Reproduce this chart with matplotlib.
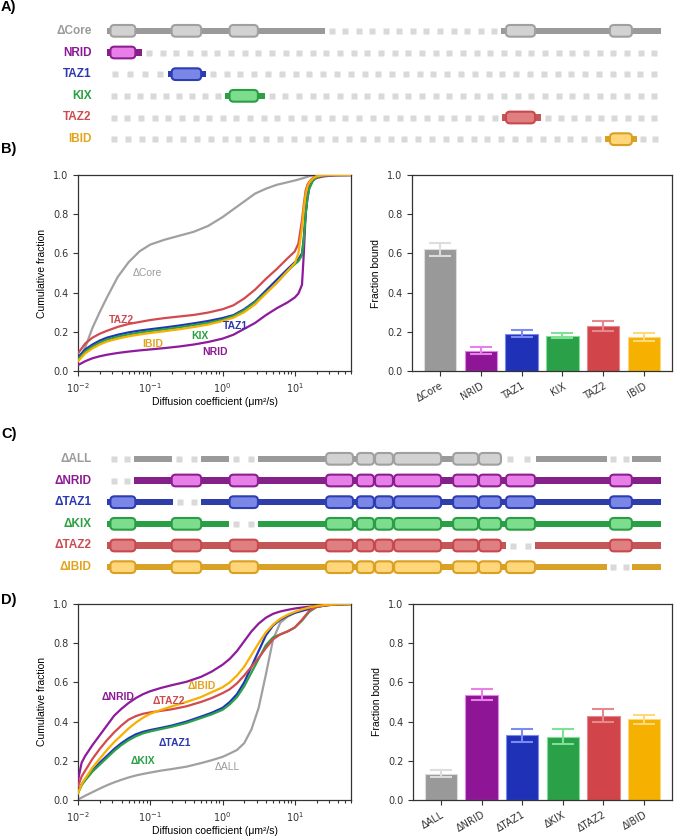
import numpy as np
import matplotlib
matplotlib.use('Agg')
import matplotlib.pyplot as plt
from matplotlib.patches import Rectangle, FancyBboxPatch

plt.rcParams['font.family'] = ['DejaVu Sans']
plt.rcParams['mathtext.fontset'] = 'dejavusans'
HELV = ['Liberation Sans', 'DejaVu Sans']

# ---------------- data ----------------
SEQ_LEN = 2441
DOMAIN_NAMES = ['NRID', 'TAZ1', 'KIX', 'core1', 'core2', 'core3', 'core4', 'core5', 'core6', 'TAZ2', 'IBID']
DOMAIN_START = [15, 285, 540, 965, 1101, 1181, 1265, 1525, 1639, 1758, 2216]
DOMAIN_END = [125, 415, 665, 1084, 1176, 1260, 1472, 1635, 1736, 1886, 2313]

# panel A: fragments kept in each construct
A_LABELS = ['ΔCore', 'NRID', 'TAZ1', 'KIX', 'TAZ2', 'IBID']
A_KEEP = [[(0, 960), (1736, 2441)], [(0, 155)], [(269, 436)], [(520, 696)], [(1740, 1912)], [(2194, 2335)]]

# panel C: regions deleted in each construct
C_LABELS = ['ΔALL', 'ΔNRID', 'ΔTAZ1', 'ΔKIX', 'ΔTAZ2', 'ΔIBID']
C_DELETED = [[(0, 120), (286, 414), (538, 665), (1740, 1890), (2203, 2313)],
             [(0, 120)], [(290, 414)], [(538, 665)], [(1758, 1886)], [(2203, 2313)]]

# panel B: cumulative distributions (log10 D) and fraction bound
B_LOGD = [-2.0, -1.9, -1.8, -1.7, -1.6, -1.45, -1.3, -1.15, -1.0, -0.8, -0.6, -0.4, -0.2, 0.0, 0.15,
          0.3, 0.45, 0.6, 0.75, 0.9, 1.0, 1.05, 1.1, 1.125, 1.15, 1.175, 1.2, 1.25, 1.3, 1.4, 1.55, 1.78]
B_DCORE = [0.05, 0.12, 0.22, 0.30, 0.375, 0.48, 0.555, 0.61, 0.645, 0.67, 0.69, 0.71, 0.74, 0.785, 0.825,
           0.865, 0.905, 0.93, 0.95, 0.963, 0.972, 0.977, 0.982, 0.985, 0.988, 0.991, 0.994, 0.998, 1.0, 1.0, 1.0, 1.0]
B_NRID = [0.03, 0.05, 0.065, 0.075, 0.083, 0.092, 0.099, 0.105, 0.11, 0.117, 0.125, 0.135, 0.148, 0.165, 0.185,
          0.215, 0.245, 0.285, 0.32, 0.35, 0.375, 0.395, 0.44, 0.6, 0.8, 0.9, 0.94, 0.972, 0.985, 0.993, 0.998, 1.0]
B_TAZ1 = [0.07, 0.11, 0.135, 0.155, 0.17, 0.185, 0.197, 0.206, 0.213, 0.222, 0.232, 0.243, 0.255, 0.27, 0.285,
          0.315, 0.355, 0.41, 0.465, 0.52, 0.555, 0.57, 0.6, 0.68, 0.8, 0.88, 0.935, 0.975, 0.99, 0.997, 1.0, 1.0]
B_KIX = [0.06, 0.1, 0.125, 0.145, 0.16, 0.175, 0.187, 0.196, 0.204, 0.213, 0.223, 0.234, 0.246, 0.262, 0.28,
         0.31, 0.35, 0.40, 0.45, 0.51, 0.545, 0.56, 0.59, 0.67, 0.8, 0.88, 0.93, 0.97, 0.988, 0.997, 1.0, 1.0]
B_TAZ2 = [0.09, 0.14, 0.17, 0.19, 0.205, 0.225, 0.24, 0.25, 0.26, 0.27, 0.278, 0.286, 0.298, 0.315, 0.335,
          0.37, 0.415, 0.47, 0.52, 0.575, 0.61, 0.65, 0.77, 0.85, 0.92, 0.95, 0.965, 0.985, 0.995, 1.0, 1.0, 1.0]
B_IBID = [0.05, 0.09, 0.115, 0.135, 0.15, 0.165, 0.177, 0.186, 0.194, 0.203, 0.213, 0.224, 0.237, 0.255, 0.272,
          0.30, 0.34, 0.395, 0.45, 0.51, 0.55, 0.6, 0.73, 0.83, 0.9, 0.94, 0.96, 0.982, 0.993, 0.999, 1.0, 1.0]
B_BOUND = [0.62, 0.103, 0.191, 0.179, 0.229, 0.173]
B_BOUND_ERR = [0.033, 0.017, 0.016, 0.013, 0.026, 0.02]

# panel D
D_LOGD = [-2.0, -1.95, -1.9, -1.8, -1.7, -1.6, -1.5, -1.4, -1.3, -1.2, -1.1, -1.0, -0.85, -0.7, -0.5, -0.3, -0.15,
          0.0, 0.1, 0.2, 0.3, 0.4, 0.5, 0.6, 0.7, 0.8, 0.9, 1.0, 1.1, 1.2, 1.3, 1.45, 1.6, 1.78]
D_ALL = [0.003, 0.012, 0.022, 0.04, 0.058, 0.075, 0.09, 0.103, 0.115, 0.125, 0.133, 0.14, 0.15, 0.158, 0.17, 0.188, 0.203,
         0.22, 0.237, 0.255, 0.29, 0.36, 0.47, 0.64, 0.82, 0.905, 0.935, 0.955, 0.97, 0.982, 0.99, 0.996, 0.999, 1.0]
D_NRID = [0.10, 0.19, 0.225, 0.28, 0.33, 0.38, 0.43, 0.465, 0.495, 0.52, 0.54, 0.555, 0.572, 0.586, 0.603, 0.628, 0.655,
          0.69, 0.72, 0.76, 0.81, 0.86, 0.90, 0.93, 0.95, 0.962, 0.97, 0.977, 0.982, 0.986, 0.99, 0.994, 0.998, 1.0]
D_TAZ1 = [0.04, 0.08, 0.105, 0.15, 0.19, 0.225, 0.26, 0.29, 0.315, 0.335, 0.348, 0.357, 0.368, 0.38, 0.40, 0.425, 0.445,
          0.47, 0.5, 0.54, 0.6, 0.68, 0.76, 0.84, 0.89, 0.92, 0.94, 0.955, 0.965, 0.975, 0.985, 0.994, 0.998, 1.0]
D_KIX = [0.035, 0.075, 0.1, 0.145, 0.18, 0.215, 0.25, 0.28, 0.305, 0.325, 0.34, 0.35, 0.362, 0.374, 0.393, 0.418, 0.437,
         0.46, 0.488, 0.525, 0.58, 0.65, 0.72, 0.79, 0.83, 0.845, 0.86, 0.88, 0.915, 0.96, 0.985, 0.995, 0.999, 1.0]
D_TAZ2 = [0.07, 0.12, 0.15, 0.21, 0.26, 0.305, 0.345, 0.38, 0.41, 0.428, 0.44, 0.447, 0.455, 0.463, 0.478, 0.5, 0.52,
          0.545, 0.565, 0.595, 0.635, 0.68, 0.725, 0.775, 0.82, 0.845, 0.86, 0.88, 0.92, 0.965, 0.985, 0.995, 0.999, 1.0]
D_IBID = [0.035, 0.08, 0.11, 0.165, 0.21, 0.255, 0.295, 0.33, 0.365, 0.395, 0.42, 0.44, 0.46, 0.478, 0.5, 0.525, 0.55,
          0.575, 0.6, 0.635, 0.68, 0.74, 0.8, 0.855, 0.895, 0.925, 0.945, 0.96, 0.972, 0.982, 0.99, 0.996, 0.999, 1.0]
D_BOUND = [0.135, 0.538, 0.33, 0.323, 0.431, 0.412]
D_BOUND_ERR = [0.02, 0.03, 0.033, 0.037, 0.033, 0.023]

# curve label positions (D value, cumulative fraction)
B_TAGS = [('ΔCore', 0.091, 0.50), ('NRID', 0.79, 0.096), ('TAZ1', 1.5, 0.23),
          ('KIX', 0.48, 0.18), ('TAZ2', 0.04, 0.26), ('IBID', 0.107, 0.14)]
D_TAGS = [('ΔALL', 1.17, 0.17), ('ΔNRID', 0.036, 0.525), ('ΔTAZ1', 0.22, 0.29),
          ('ΔKIX', 0.08, 0.20), ('ΔTAZ2', 0.18, 0.505), ('ΔIBID', 0.52, 0.58)]

# colours: gray, purple, blue, green, red, yellow
LINE_COLORS = ['#9a9a9a', '#85208a', '#2f3da8', '#29a044', '#c55657', '#d9a126']
BOX_FILL = ['#d2d2d2', '#e87fe8', '#7a87e6', '#7ddd8e', '#e07f80', '#ffd67a']
BOX_EDGE = ['#a0a0a0', '#8c1f90', '#2d3db2', '#2a9d45', '#c8484f', '#daa023']
TEXT_COLORS = ['#9b9b9b', '#8c1a94', '#2b39b0', '#2aa043', '#cd4a4f', '#e3a41c']
BAR_COLORS = ['#999999', '#8e1696', '#1f31b7', '#2aa049', '#d0444a', '#f5b000']
ERR_COLORS = ['#dddddd', '#e681ea', '#7c8bf2', '#80e095', '#e58a8c', '#ffd978']
CURVE_COLORS = ['#a0a0a0', '#8e1a9c', '#1f35b8', '#2ca04a', '#d24a50', '#f7b000']

W, H = 675, 839
fig = plt.figure(figsize=(W / 100, H / 100), dpi=100)


def px_axes(left, top, right, bottom):
    return fig.add_axes([left / W, 1 - bottom / H, (right - left) / W, (bottom - top) / H])


def complement(segs):
    out, pos = [], 0
    for s, e in sorted(segs):
        if s > pos:
            out.append((pos, s))
        pos = max(pos, e)
    if pos < SEQ_LEN:
        out.append((pos, SEQ_LEN))
    return out


def draw_schematic(ax, labels, keeps):
    nrow = len(labels)
    ax.set_xlim(0, SEQ_LEN)
    ax.set_ylim(nrow - 0.5, -0.5)
    ax.axis('off')
    bb = ax.get_position()
    ppu_x = bb.width * W / SEQ_LEN
    ppu_y = bb.height * H / nrow
    aspect = ppu_x / ppu_y
    radius = 4.0 / ppu_x
    step = 13.7 / ppu_x
    line_h, box_h = 0.28, 0.54
    for row, (lab, keep) in enumerate(zip(labels, keeps)):
        for s, e in keep:
            ax.add_patch(Rectangle((s, row - line_h / 2), e - s, line_h,
                                   facecolor=LINE_COLORS[row], edgecolor='none', zorder=2))
        for s, e in complement(keep):
            n = max(1, int(round((e - s) / step)))
            xs = s + (np.arange(n) + 0.5) * (e - s) / n
            ax.plot(xs, np.full(n, row), 's', ms=3.8, color='#d9d9d9', mec='none', zorder=1)
        for name, s, e in zip(DOMAIN_NAMES, DOMAIN_START, DOMAIN_END):
            inside = any(s >= ks and e <= ke for ks, ke in keep)
            if not inside:
                continue
            ax.add_patch(FancyBboxPatch((s, row - box_h / 2), e - s, box_h,
                                        boxstyle=f'round,pad=0,rounding_size={radius}',
                                        mutation_aspect=aspect, facecolor=BOX_FILL[row],
                                        edgecolor=BOX_EDGE[row], lw=1.5, zorder=3))
        ax.text(-0.028, row, lab, transform=ax.get_yaxis_transform(), ha='right', va='center',
                fontsize=8.5, fontweight='bold', color=TEXT_COLORS[row], family=HELV)


def style_axes(ax):
    for sp in ax.spines.values():
        sp.set_color('#333333')
        sp.set_linewidth(0.9)
    ax.tick_params(which='both', direction='out', colors='#333333', labelsize=7, width=0.8)
    ax.tick_params(which='major', length=3.5)
    ax.tick_params(which='minor', length=2)


def draw_cdf(ax, logd, curves, tags):
    x = 10 ** np.array(logd)
    for i, y in enumerate(curves):
        ax.plot(x, y, color=CURVE_COLORS[i], lw=1.6, zorder=2 + i)
    ax.set_xscale('log')
    ax.set_xlim(1e-2, 60)
    ax.set_ylim(0, 1)
    ax.set_yticks([0, 0.2, 0.4, 0.6, 0.8, 1.0])
    ax.set_xlabel('Diffusion coefficient (μm²/s)', fontsize=7.5, family=HELV, labelpad=2)
    ax.set_ylabel('Cumulative fraction', fontsize=7.5, family=HELV)
    style_axes(ax)
    for i, (t, tx, ty) in enumerate(tags):
        ax.text(tx, ty, t, color=TEXT_COLORS[i], fontsize=7.5, ha='center', va='center',
                fontweight='normal' if i == 0 else 'bold', family=HELV, zorder=10)


def draw_bars(ax, labels, vals, errs):
    xs = np.arange(len(vals))
    ax.bar(xs, vals, width=0.8, color=BAR_COLORS, edgecolor=ERR_COLORS, lw=0.8)
    for i in xs:
        ax.errorbar(xs[i], vals[i], yerr=errs[i], fmt='none', ecolor=ERR_COLORS[i],
                    elinewidth=1.5, capsize=8, capthick=1.5, zorder=5)
    ax.set_ylim(0, 1)
    ax.set_yticks([0, 0.2, 0.4, 0.6, 0.8, 1.0])
    ax.set_xticks(xs)
    ax.set_xticklabels(labels, rotation=30, ha='right', rotation_mode='anchor')
    ax.set_ylabel('Fraction bound', fontsize=7.5, family=HELV)
    style_axes(ax)


# panel A
axA = px_axes(107, 20, 661, 150)
draw_schematic(axA, A_LABELS, A_KEEP)

# panel C
axC = px_axes(107, 448, 661, 578)
c_keep = [complement(d) for d in C_DELETED]
draw_schematic(axC, C_LABELS, c_keep)

# panel B
axB1 = px_axes(78, 175, 351, 371)
draw_cdf(axB1, B_LOGD, [B_DCORE, B_NRID, B_TAZ1, B_KIX, B_TAZ2, B_IBID], B_TAGS)
axB2 = px_axes(412, 175, 672, 371)
draw_bars(axB2, A_LABELS, B_BOUND, B_BOUND_ERR)

# panel D
axD1 = px_axes(78, 604, 351, 800)
draw_cdf(axD1, D_LOGD, [D_ALL, D_NRID, D_TAZ1, D_KIX, D_TAZ2, D_IBID], D_TAGS)
axD2 = px_axes(413, 604, 672, 800)
draw_bars(axD2, C_LABELS, D_BOUND, D_BOUND_ERR)

for letter, ypx in [('A)', 7), ('B)', 149), ('C)', 434), ('D)', 600)]:
    fig.text(1 / W, 1 - ypx / H, letter, fontsize=10.5, fontweight='bold', family=HELV,
             ha='left', va='center')

fig.savefig('out.png', dpi=100)
